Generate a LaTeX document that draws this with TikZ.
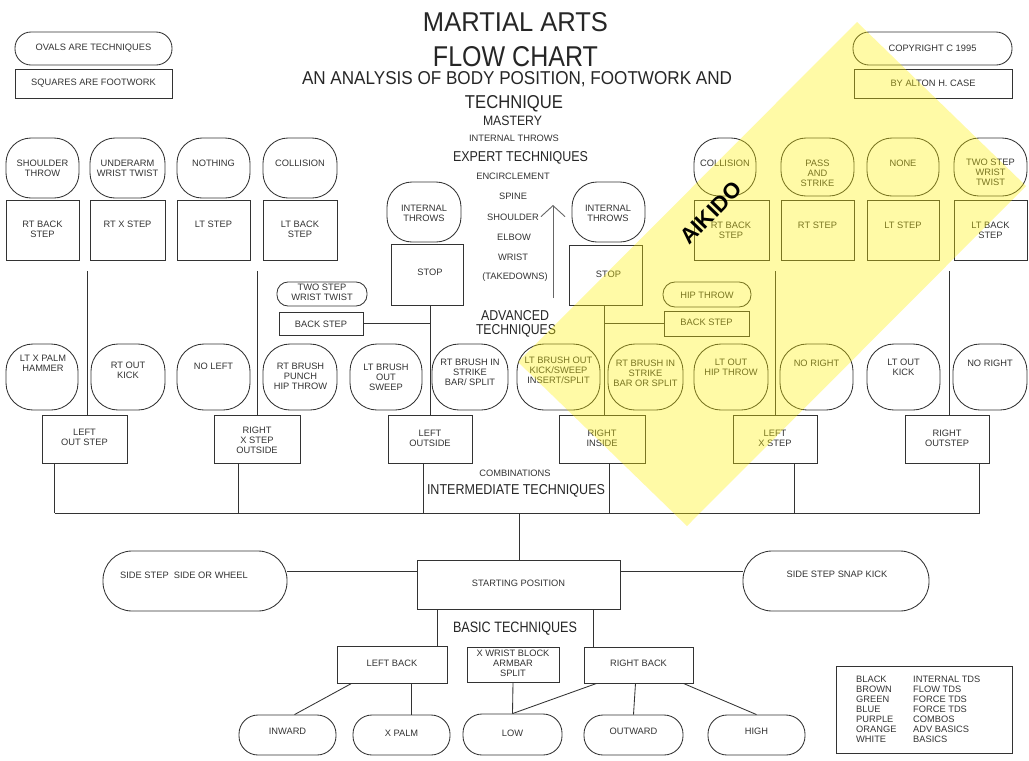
\documentclass[tikz,border=0pt]{standalone}
\usepackage{fontspec}
\usepackage{graphicx}
\setmainfont{Liberation Sans}
\usetikzlibrary{arrows.meta,calc}
\newcommand{\shp}[6]{\node[#1,minimum width={#5-#3},minimum height={#6-#4}] (#2) at ({(#3+#5)/2},{(#4+#6)/2}) {};}
\newcommand{\lbl}[4]{\node[txt] (#1) at (#2,#3) {#4};}
\newcommand{\hd}[6]{\node[big] (#1) at (#2,#3) {\resizebox{#4pt}{#5pt}{\fontsize{12}{12}\selectfont #6}};}
\begin{document}
\begin{tikzpicture}[x=1pt,y=-1pt,
  ln/.style={draw=black!80,line width=0.85pt},
  boxst/.style={ln,rectangle,inner sep=0pt},
  ovst/.style={ln,rectangle,rounded corners=#1,inner sep=0pt},
  txt/.style={font=\fontsize{9.3}{10}\selectfont,text=black!80,align=center,inner sep=0pt},
  big/.style={text=black!85,inner sep=0pt},
]
\useasboundingbox (0,0) rectangle (1029,761);
\fill[white] (0,0) rectangle (1029,761);

% ---- titles
\hd{ti1}{515.5}{22.5}{185}{19}{MARTIAL ARTS}
\hd{ti2}{515.5}{57}{165}{20}{FLOW CHART}
\hd{ti3}{517}{79.5}{430}{13}{AN ANALYSIS OF BODY POSITION, FOOTWORK AND}
\hd{ti4}{514}{103.5}{98}{13}{TECHNIQUE}
\hd{h1}{512.5}{121}{59}{9.5}{MASTERY}
\lbl{h2}{514}{138}{INTERNAL THROWS}
\hd{h3}{520.5}{157.5}{135}{10}{EXPERT TECHNIQUES}
\lbl{h4}{513}{176}{ENCIRCLEMENT}
\lbl{h5}{513}{196}{SPINE}
\lbl{h6}{513}{217}{SHOULDER}
\lbl{h7}{514}{237}{ELBOW}
\lbl{h8}{513}{257}{WRIST}
\lbl{h9}{515}{277}{(TAKEDOWNS)}
\hd{h10}{515}{316}{68}{10}{ADVANCED}
\hd{h11}{516}{331}{80}{10}{TECHNIQUES}
\lbl{h12}{515}{473}{COMBINATIONS}
\hd{h13}{516}{491}{178}{10}{INTERMEDIATE TECHNIQUES}
\hd{h14}{515}{629}{124}{10.5}{BASIC TECHNIQUES}
\coordinate (arS) at (553,298);
\coordinate (arE) at (553,205);
\draw[draw=black!60,line width=0.9pt,-{Straight Barb[length=11pt,width=24pt]}] (arS) -- (arE);

% ---- legends top
\shp{ovst=16pt}{lov}{15}{32}{172}{65}
\lbl{lovt}{93.5}{48.5}{OVALS ARE TECHNIQUES}
\shp{boxst}{lsq}{15}{69}{172}{98}
\lbl{lsqt}{93.5}{83.5}{SQUARES ARE FOOTWORK}
\shp{ovst=16pt}{cov}{853}{32}{1012}{65}
\lbl{covt}{932.5}{48.5}{COPYRIGHT C 1995}
\shp{boxst}{byr}{854}{69}{1012}{98}
\lbl{byt}{933}{83.5}{BY ALTON H. CASE}

% ---- top row left
\shp{ovst=25pt}{o1}{6}{138}{79}{198}
\lbl{o1t}{42.5}{168}{SHOULDER\\THROW}
\shp{ovst=25pt}{o2}{90}{138}{165}{198}
\lbl{o2t}{127.5}{168}{UNDERARM\\WRIST TWIST}
\shp{ovst=25pt}{o3}{177}{138}{250}{198}
\lbl{o3t}{213.5}{163}{NOTHING}
\shp{ovst=25pt}{o4}{263}{138}{337}{198}
\lbl{o4t}{300}{163}{COLLISION}
\shp{boxst}{b1}{6}{200}{79}{260}
\lbl{b1t}{42.5}{229}{RT BACK\\STEP}
\shp{boxst}{b2}{90}{200}{165}{260}
\lbl{b2t}{127.5}{224}{RT X STEP}
\shp{boxst}{b3}{177}{200}{250}{260}
\lbl{b3t}{213.5}{224}{LT STEP}
\shp{boxst}{b4}{263}{200}{337}{260}
\lbl{b4t}{300}{229}{LT BACK\\STEP}

% ---- top row right
\shp{ovst=25pt}{o5}{694}{138}{756}{196}
\lbl{o5t}{725}{163}{COLLISION}
\shp{ovst=25pt}{o6}{781}{138}{854}{196}
\lbl{o6t}{817.5}{173}{PASS\\AND\\STRIKE}
\shp{ovst=25pt}{o7}{867}{138}{939}{196}
\lbl{o7t}{903}{163}{NONE}
\shp{ovst=25pt}{o8}{954}{138}{1027}{196}
\lbl{o8t}{990.5}{172.5}{TWO STEP\\WRIST\\TWIST}
\shp{boxst}{b5}{694}{200}{769}{260}
\lbl{b5t}{731}{230}{RT BACK\\STEP}
\shp{boxst}{b6}{781}{200}{854}{260}
\lbl{b6t}{817.5}{225}{RT STEP}
\shp{boxst}{b7}{867}{200}{939}{260}
\lbl{b7t}{903}{225}{LT STEP}
\shp{boxst}{b8}{954}{200}{1027}{260}
\lbl{b8t}{990.5}{230}{LT BACK\\STEP}

% ---- middle stops
\shp{ovst=25pt}{oL}{387}{182}{461}{242}
\lbl{oLt}{424}{213}{INTERNAL\\THROWS}
\shp{boxst}{bL}{391}{244}{463}{305}
\lbl{bLt}{430}{272}{STOP}
\shp{ovst=25pt}{oR}{572}{182}{645}{242}
\lbl{oRt}{608}{213}{INTERNAL\\THROWS}
\shp{boxst}{bR}{569}{245}{642}{305}
\lbl{bRt}{608.5}{274}{STOP}

\shp{ovst=11pt}{oTS}{277}{282}{367}{306}
\lbl{oTSt}{322}{292.5}{TWO STEP\\WRIST TWIST}
\shp{boxst}{bB1}{279}{312}{363}{335}
\lbl{bB1t}{321}{324}{BACK STEP}
\shp{ovst=12pt}{oHT}{663}{282}{751}{307}
\lbl{oHTt}{707}{295}{HIP THROW}
\shp{boxst}{bB2}{664}{311}{749}{336}
\lbl{bB2t}{706.5}{322}{BACK STEP}

% ---- middle row ovals
\shp{ovst=27pt}{m1}{6}{344}{78}{410}
\lbl{m1t}{43}{363}{LT X PALM\\HAMMER}
\shp{ovst=27pt}{m2}{91}{344}{165}{410}
\lbl{m2t}{128}{370}{RT OUT\\KICK}
\shp{ovst=27pt}{m3}{177}{344}{250}{410}
\lbl{m3t}{213.5}{366}{NO LEFT}
\shp{ovst=27pt}{m4}{263}{344}{337}{410}
\lbl{m4t}{300.5}{376}{RT BRUSH\\PUNCH\\HIP THROW}
\shp{ovst=27pt}{m5}{350}{344}{422}{410}
\lbl{m5t}{386}{377}{LT BRUSH\\OUT\\SWEEP}
\shp{ovst=27pt}{m6}{432}{344}{508}{410}
\lbl{m6t}{470}{372}{RT BRUSH IN\\STRIKE\\BAR/ SPLIT}
\shp{ovst=27pt}{m7}{517}{344}{600}{410}
\lbl{m7t}{558.5}{370}{LT BRUSH OUT\\KICK/SWEEP\\INSERT/SPLIT}
\shp{ovst=27pt}{m8}{608}{344}{683}{410}
\lbl{m8t}{645.5}{373}{RT BRUSH IN\\STRIKE\\BAR OR SPLIT}
\shp{ovst=27pt}{m9}{694}{344}{768}{410}
\lbl{m9t}{731}{367.5}{LT OUT\\HIP THROW}
\shp{ovst=27pt}{m10}{780}{344}{853}{410}
\lbl{m10t}{816.5}{363}{NO RIGHT}
\shp{ovst=27pt}{m11}{867}{344}{940}{410}
\lbl{m11t}{903.5}{367}{LT OUT\\KICK}
\shp{ovst=27pt}{m12}{953}{344}{1027}{410}
\lbl{m12t}{990}{363}{NO RIGHT}

% ---- footwork boxes
\shp{boxst}{f1}{42}{415}{127}{463}
\lbl{f1t}{84.5}{437}{LEFT\\OUT STEP}
\shp{boxst}{f2}{214}{415}{300}{463}
\lbl{f2t}{257}{440.5}{RIGHT\\X STEP\\OUTSIDE}
\shp{boxst}{f3}{388}{415}{472}{463}
\lbl{f3t}{430}{438.5}{LEFT\\OUTSIDE}
\shp{boxst}{f4}{559}{415}{645}{463}
\lbl{f4t}{602}{438.5}{RIGHT\\INSIDE}
\shp{boxst}{f5}{733}{415}{817}{463}
\lbl{f5t}{775}{438.5}{LEFT\\X STEP}
\shp{boxst}{f6}{905}{415}{989}{463}
\lbl{f6t}{947}{438.5}{RIGHT\\OUTSTEP}

% ---- bottom
\shp{boxst}{sp}{417}{560}{620}{609}
\lbl{spt}{518.5}{583}{STARTING POSITION}
\shp{ovst=29pt}{sL}{103}{551}{287}{611}
\lbl{sLt}{184}{575}{SIDE STEP\ \ SIDE OR WHEEL}
\shp{ovst=29pt}{sR}{743}{551}{929}{611}
\lbl{sRt}{837}{574}{SIDE STEP SNAP KICK}
\shp{boxst}{lb}{337}{646}{447}{683}
\lbl{lbt}{392}{663}{LEFT BACK}
\shp{boxst}{xw}{467}{647}{559}{682}
\lbl{xwt}{513}{663}{X WRIST BLOCK\\ARMBAR\\SPLIT}
\shp{boxst}{rb}{584}{647}{693}{683}
\lbl{rbt}{638.5}{663}{RIGHT BACK}
\shp{ovst=19pt}{inw}{239}{715}{336}{755}
\lbl{inwt}{287.5}{731}{INWARD}
\shp{ovst=19pt}{xp}{353}{715}{450}{755}
\lbl{xpt}{401.5}{733}{X PALM}
\shp{ovst=19pt}{low}{463}{714}{562}{755}
\lbl{lowt}{512.5}{733}{LOW}
\shp{ovst=19pt}{outw}{584}{715}{683}{755}
\lbl{outwt}{633.5}{731}{OUTWARD}
\shp{ovst=19pt}{high}{708}{715}{805}{755}
\lbl{hight}{756.5}{731}{HIGH}

\shp{boxst}{leg}{836}{666}{1012}{753}
\node[txt,align=left,anchor=west] (legA) at (856,709) {BLACK\\BROWN\\GREEN\\BLUE\\PURPLE\\ORANGE\\WHITE};
\node[txt,align=left,anchor=west] (legB) at (913,709) {INTERNAL TDS\\FLOW TDS\\FORCE TDS\\FORCE TDS\\COMBOS\\ADV BASICS\\BASICS};

% ---- connectors
\coordinate (u1) at (87,271);
\coordinate (u2) at (257,271);
\coordinate (u5) at (775,271);
\coordinate (u6) at (949,271);
\draw[ln] (u1) -- (u1 |- f1.north);
\draw[ln] (u2) -- (u2 |- f2.north);
\draw[ln] (u5) -- (u5 |- f5.north);
\draw[ln] (u6) -- (u6 |- f6.north);
\draw[ln] (f3.north |- bL.south) -- (f3.north);
\draw[ln] (bB1.east) -- (bB1.east -| f3.north);
\coordinate (rs) at ([xshift=-1.5pt]bR.south);
\draw[ln] (rs) -- (rs |- f4.north);
\draw[ln] (bB2.west) -- (bB2.west -| rs);

\coordinate (bar) at (519,513);
\coordinate (d1) at ([xshift=13pt]f1.south west);
\coordinate (d2) at ([xshift=25pt]f2.south west);
\coordinate (d3) at ([xshift=36pt]f3.south west);
\coordinate (d4) at ([xshift=51pt]f4.south west);
\coordinate (d5) at ([xshift=62pt]f5.south west);
\coordinate (d6) at ([xshift=75pt]f6.south west);
\foreach \d in {d1,d2,d3,d4,d5,d6} \draw[ln] (\d) -- (\d |- bar);
\draw[ln] (d1 |- bar) -- (d6 |- bar);
\draw[ln] (bar) -- (bar |- sp.north);

\draw[ln] ([yshift=10pt]sL.east) -- ([yshift=10pt]sL.east -| sp.west);
\draw[ln] ([yshift=10pt]sR.west) -- ([yshift=10pt]sR.west -| sp.east);
\draw[ln] ([xshift=-10pt]lb.north east) -- ([xshift=-10pt]lb.north east |- sp.south);
\draw[ln] ([xshift=10pt]rb.north west) -- ([xshift=10pt]rb.north west |- sp.south);
\draw[ln] ([xshift=15pt]lb.south west) -- ([xshift=7pt]inw.north);
\draw[ln] ([xshift=10pt]xp.north) -- ([xshift=10pt]xp.north |- lb.south);
\draw[ln] (xw.south) -- (low.north);
\draw[ln] ([xshift=13pt]rb.south west) -- (low.north);
\draw[ln] ([xshift=-3pt]rb.south) -- (outw.north);
\draw[ln] ([xshift=-10pt]rb.south east) -- (high.north);

% ---- aikido band
\fill[yellow,fill opacity=0.35] (857,22) -- (1026,186) -- (687,526) -- (518,362) -- cycle;
\node[rotate=46,inner sep=0pt,font=\bfseries\fontsize{22}{22}\selectfont] (aik) at (711,213) {AIKIDO};
\end{tikzpicture}
\end{document}
